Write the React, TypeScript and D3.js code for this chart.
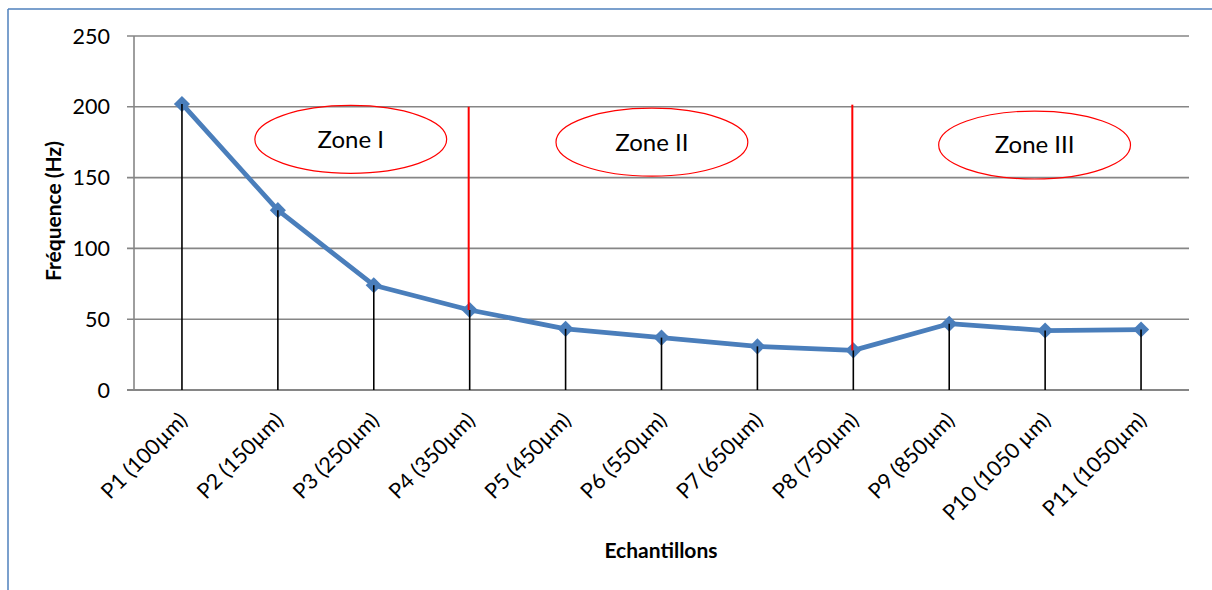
import React from "react";
import * as d3 from "d3";

const categories = [
  "P1 (100µm)", "P2 (150µm)", "P3 (250µm)", "P4 (350µm)", "P5 (450µm)", "P6 (550µm)",
  "P7 (650µm)", "P8 (750µm)", "P9 (850µm)", "P10 (1050 µm)", "P11 (1050µm)",
];
const frequency = [202, 127, 74, 56.5, 43.2, 37, 30.8, 28, 46.8, 42, 42.7];
const yTicks = [0, 50, 100, 150, 200, 250];

// zone annotations (in data coordinates: category index, frequency)
const zoneLabels = ["Zone I", "Zone II", "Zone III"];
const zoneCenterIndex = [1.76, 4.9, 8.89];
const zoneCenterValue = [177, 175, 173];
const zoneHalfWidthIndex = 1.0;
const zoneHalfHeightValue = 24;
const dividerIndex = [3, 7];
const dividerTop = [200, 201.5];

const W = 1212;
const H = 590;
const FONT = "Lato, 'Open Sans', sans-serif";

export default function App() {
  const left = 134, right = 1189, top = 36, bottom = 390;
  const x = d3.scalePoint<string>().domain(categories).range([left, right]).padding(0.5);
  const xi = d3.scaleLinear().domain([0, categories.length - 1]).range([x(categories[0])!, x(categories[categories.length - 1])!]);
  const y = d3.scaleLinear().domain([0, 250]).range([bottom, top]);
  const line = d3.line<number>().x((_, i) => xi(i)).y((d) => y(d));
  const marker = d3.symbol().type(d3.symbolSquare).size(130)();
  const grid = "#868686";

  return (
    <svg width={W} height={H} style={{ position: "absolute", left: 0, top: 0, display: "block", background: "#fff" }}>
      {/* outer chart border */}
      <line x1={8} y1={9} x2={W} y2={9} stroke="#4F81BD" strokeWidth={1.5} />
      <line x1={8} y1={9} x2={8} y2={H} stroke="#4F81BD" strokeWidth={1.5} />

      {/* gridlines and y ticks */}
      {yTicks.map((t) => (
        <g key={t}>
          <line x1={left - 7} x2={right} y1={y(t)} y2={y(t)} stroke={grid} strokeWidth={t === 0 ? 2 : 1.6} />
          <text x={110} y={y(t)} dy="0.35em" textAnchor="end" fontFamily={FONT} fontSize={21.5} fill="#000">{t}</text>
        </g>
      ))}
      <line x1={left} x2={left} y1={top} y2={bottom} stroke={grid} strokeWidth={1.6} />

      {/* zone ellipses */}
      {zoneLabels.map((z, i) => (
        <g key={z}>
          <ellipse cx={xi(zoneCenterIndex[i])} cy={y(zoneCenterValue[i])}
            rx={xi(zoneHalfWidthIndex) - xi(0)} ry={y(0) - y(zoneHalfHeightValue)}
            fill="none" stroke="#FF0000" strokeWidth={1.2} />
          <text x={xi(zoneCenterIndex[i])} y={y(zoneCenterValue[i])} dy="0.35em" textAnchor="middle"
            fontFamily={FONT} fontSize={24} fill="#000">{z}</text>
        </g>
      ))}

      {/* series line */}
      <path d={line(frequency)!} fill="none" stroke="#4A7EBB" strokeWidth={4.8} strokeLinejoin="round" />
      {frequency.map((v, i) => (
        <path key={i} d={marker} transform={`translate(${xi(i)},${y(v)}) rotate(45)`} fill="#4A7EBB" />
      ))}

      {/* drop lines */}
      {frequency.map((v, i) => (
        <line key={i} x1={xi(i)} x2={xi(i)} y1={y(v)} y2={y(0)} stroke="#000" strokeWidth={1.6} />
      ))}

      {/* zone dividers */}
      {dividerIndex.map((di, k) => (
        <line key={k} x1={xi(di) - 1} x2={xi(di) - 1} y1={y(dividerTop[k])} y2={y(frequency[di])}
          stroke="#FF0000" strokeWidth={2} />
      ))}

      {/* x labels */}
      {categories.map((c) => (
        <text key={c} transform={`translate(${x(c)! + 1},${416}) rotate(-45)`} textAnchor="end"
          dominantBaseline="central" fontFamily={FONT} fontSize={21.5} fill="#000">{c}</text>
      ))}

      {/* axis titles */}
      <text x={661} y={551} dy="0.35em" textAnchor="middle" fontFamily={FONT} fontSize={21} fontWeight="bold">Echantillons</text>
      <text transform={`translate(54,${211}) rotate(-90)`} dy="0.35em" textAnchor="middle"
        fontFamily={FONT} fontSize={21} fontWeight="bold">Fréquence (Hz)</text>
    </svg>
  );
}
